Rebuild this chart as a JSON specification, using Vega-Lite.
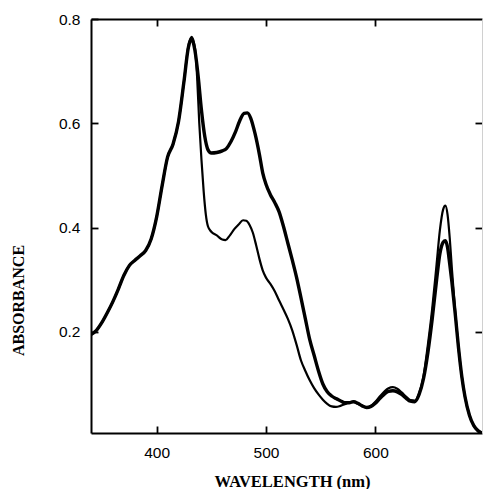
{
  "$schema": "https://vega.github.io/schema/vega-lite/v6.json",
  "autosize": {"type": "none"},
  "padding": {"left": 91, "top": 19, "right": 1, "bottom": 56},
  "width": 391,
  "height": 414,
  "background": "white",
  "config": {"view": {"stroke": null}},
  "datasets": {
    "thick": [
      {"wl":340,"a":0.195},{"wl":345,"a":0.203},{"wl":350,"a":0.218},{"wl":355,"a":0.237},{"wl":360,"a":0.258},{"wl":365,"a":0.282},{"wl":370,"a":0.308},{"wl":375,"a":0.327},{"wl":380,"a":0.337},{"wl":385,"a":0.346},{"wl":390,"a":0.356},{"wl":395,"a":0.378},{"wl":400,"a":0.42},{"wl":405,"a":0.48},{"wl":410,"a":0.535},{"wl":415,"a":0.56},{"wl":420,"a":0.603},{"wl":425,"a":0.68},{"wl":429,"a":0.745},{"wl":432,"a":0.762},
      {"wl":435,"a":0.74},{"wl":438,"a":0.69},{"wl":441,"a":0.625},{"wl":444,"a":0.575},{"wl":447,"a":0.549},{"wl":450,"a":0.543},{"wl":455,"a":0.544},{"wl":460,"a":0.547},{"wl":464,"a":0.552},{"wl":468,"a":0.565},{"wl":472,"a":0.583},{"wl":476,"a":0.605},{"wl":480,"a":0.619},{"wl":483,"a":0.62},{"wl":486,"a":0.61},{"wl":490,"a":0.58},{"wl":494,"a":0.54},{"wl":497,"a":0.505},{"wl":500,"a":0.483},{"wl":504,"a":0.463},{"wl":508,"a":0.448},{"wl":512,"a":0.43},{"wl":516,"a":0.402},{"wl":520,"a":0.37},{"wl":524,"a":0.338},{"wl":528,"a":0.304},{"wl":532,"a":0.265},{"wl":536,"a":0.225},{"wl":540,"a":0.185},{"wl":544,"a":0.155},{"wl":548,"a":0.125},{"wl":552,"a":0.1},{"wl":556,"a":0.085},{"wl":560,"a":0.077},{"wl":564,"a":0.072},{"wl":568,"a":0.068},{"wl":572,"a":0.064},{"wl":576,"a":0.064},{"wl":580,"a":0.066},{"wl":584,"a":0.063},{"wl":588,"a":0.058},{"wl":592,"a":0.055},{"wl":596,"a":0.057},{"wl":600,"a":0.063},{"wl":604,"a":0.072},{"wl":608,"a":0.08},{"wl":612,"a":0.086},{"wl":616,"a":0.087},{"wl":620,"a":0.085},{"wl":624,"a":0.08},{"wl":628,"a":0.073},{"wl":632,"a":0.067},{"wl":636,"a":0.066},{"wl":640,"a":0.08},{"wl":644,"a":0.11},{"wl":648,"a":0.16},{"wl":652,"a":0.225},{"wl":656,"a":0.3},{"wl":659,"a":0.35},{"wl":662,"a":0.372},{"wl":664,"a":0.375},{"wl":666,"a":0.362},{"wl":668,"a":0.33},{"wl":670,"a":0.295},{"wl":673,"a":0.235},{"wl":676,"a":0.17},{"wl":679,"a":0.115},{"wl":682,"a":0.075},{"wl":686,"a":0.04},{"wl":690,"a":0.02},{"wl":694,"a":0.01},{"wl":697.5,"a":0.006}
    ],
    "thin": [
      {"wl":340,"a":0.195},{"wl":345,"a":0.203},{"wl":350,"a":0.218},{"wl":355,"a":0.237},{"wl":360,"a":0.258},{"wl":365,"a":0.282},{"wl":370,"a":0.308},{"wl":375,"a":0.327},{"wl":380,"a":0.337},{"wl":385,"a":0.346},{"wl":390,"a":0.356},{"wl":395,"a":0.378},{"wl":400,"a":0.42},{"wl":405,"a":0.48},{"wl":410,"a":0.535},{"wl":415,"a":0.56},{"wl":420,"a":0.603},{"wl":425,"a":0.68},{"wl":429,"a":0.748},{"wl":432,"a":0.766},
      {"wl":435,"a":0.745},{"wl":437,"a":0.69},{"wl":439,"a":0.6},{"wl":441,"a":0.53},{"wl":443,"a":0.47},{"wl":445,"a":0.425},{"wl":447,"a":0.402},{"wl":450,"a":0.392},{"wl":455,"a":0.385},{"wl":460,"a":0.377},{"wl":463,"a":0.376},{"wl":467,"a":0.385},{"wl":471,"a":0.397},{"wl":475,"a":0.406},{"wl":479,"a":0.414},{"wl":482,"a":0.413},{"wl":485,"a":0.405},{"wl":488,"a":0.39},{"wl":491,"a":0.366},{"wl":494,"a":0.34},{"wl":497,"a":0.318},{"wl":500,"a":0.304},{"wl":504,"a":0.292},{"wl":508,"a":0.278},{"wl":512,"a":0.26},{"wl":516,"a":0.243},{"wl":520,"a":0.225},{"wl":524,"a":0.203},{"wl":528,"a":0.175},{"wl":532,"a":0.145},{"wl":536,"a":0.125},{"wl":540,"a":0.107},{"wl":544,"a":0.092},{"wl":548,"a":0.08},{"wl":552,"a":0.07},{"wl":556,"a":0.062},{"wl":560,"a":0.057},{"wl":564,"a":0.056},{"wl":568,"a":0.058},{"wl":572,"a":0.061},{"wl":576,"a":0.065},{"wl":580,"a":0.066},{"wl":584,"a":0.062},{"wl":588,"a":0.058},{"wl":592,"a":0.055},{"wl":596,"a":0.058},{"wl":600,"a":0.066},{"wl":604,"a":0.076},{"wl":608,"a":0.085},{"wl":612,"a":0.092},{"wl":616,"a":0.094},{"wl":620,"a":0.091},{"wl":624,"a":0.084},{"wl":628,"a":0.076},{"wl":632,"a":0.069},{"wl":636,"a":0.068},{"wl":640,"a":0.082},{"wl":644,"a":0.115},{"wl":648,"a":0.175},{"wl":652,"a":0.245},{"wl":656,"a":0.33},{"wl":659,"a":0.395},{"wl":662,"a":0.435},{"wl":664,"a":0.442},{"wl":666,"a":0.425},{"wl":668,"a":0.38},{"wl":670,"a":0.32},{"wl":673,"a":0.24},{"wl":676,"a":0.17},{"wl":679,"a":0.115},{"wl":682,"a":0.075},{"wl":686,"a":0.04},{"wl":690,"a":0.02},{"wl":694,"a":0.01},{"wl":697.5,"a":0.006}
    ]
  },
  "resolve": {"axis": {"x": "independent", "y": "independent"}},
  "layer": [
    {
      "data": {"name": "thick"},
      "mark": {"type": "line", "color": "black", "strokeWidth": 3.4, "interpolate": "monotone", "clip": true},
      "encoding": {
        "x": {"field": "wl", "type": "quantitative", "scale": {"domain": [340, 697.5], "nice": false, "zero": false},
          "axis": {"orient": "bottom", "values": [400, 500, 600], "title": "WAVELENGTH (nm)", "grid": false,
            "domainColor": "black", "domainWidth": 2, "tickColor": "black", "tickWidth": 1.8, "tickSize": -7,
            "labelFont": "Liberation Sans", "labelFontSize": 15.5, "labelColor": "black", "labelPadding": 19, "labelBaseline": "top",
            "titleFont": "Liberation Serif", "titleFontWeight": "bold", "titleFontSize": 16.5, "titleColor": "black",
            "titleX": 201, "titleY": 53, "titleAlign": "center", "titleBaseline": "alphabetic", "titleAnchor": null}},
        "y": {"field": "a", "type": "quantitative", "scale": {"domain": [0.006, 0.8], "nice": false, "zero": false},
          "axis": {"orient": "left", "values": [0.2, 0.4, 0.6, 0.8], "format": ".1f", "title": "ABSORBANCE", "grid": false,
            "domainColor": "black", "domainWidth": 2, "tickColor": "black", "tickWidth": 1.8, "tickSize": -7,
            "labelFont": "Liberation Sans", "labelFontSize": 15.5, "labelColor": "black", "labelPadding": 18,
            "titleFont": "Liberation Serif", "titleFontWeight": "bold", "titleFontSize": 16, "titleColor": "black",
            "titleAngle": 270, "titleX": -68, "titleY": 281, "titleAlign": "center", "titleBaseline": "alphabetic", "titleAnchor": null}}
      }
    },
    {
      "data": {"name": "thin"},
      "mark": {"type": "line", "color": "black", "strokeWidth": 2.2, "interpolate": "monotone", "clip": true},
      "encoding": {
        "x": {"field": "wl", "type": "quantitative",
          "axis": {"orient": "top", "values": [400, 500, 600], "title": null, "labels": false, "grid": false,
            "domainColor": "black", "domainWidth": 2.2, "tickColor": "black", "tickWidth": 1.8, "tickSize": -7}},
        "y": {"field": "a", "type": "quantitative",
          "axis": {"orient": "right", "values": [0.2, 0.4, 0.6], "title": null, "labels": false, "grid": false,
            "domainColor": "#d0d0d0", "domainWidth": 1, "tickColor": "black", "tickWidth": 1.8, "tickSize": -7}}
      }
    }
  ]
}
